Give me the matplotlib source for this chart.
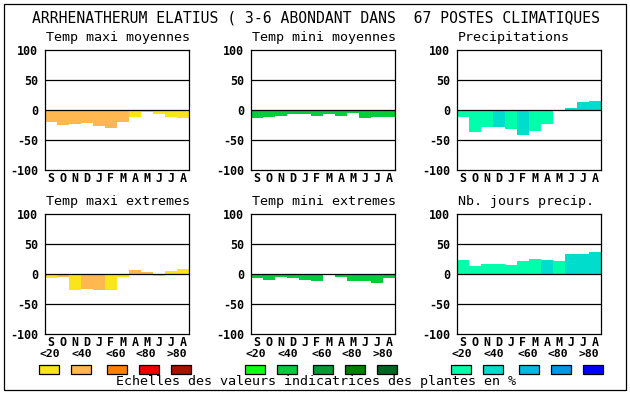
import matplotlib
matplotlib.use("Agg")
import matplotlib.pyplot as plt
from matplotlib.patches import Rectangle

W, H = 630, 394
MONO = "DejaVu Sans Mono"

# Data (percent deviation per month, Sept -> Aug)
months = ['S', 'O', 'N', 'D', 'J', 'F', 'M', 'A', 'M', 'J', 'J', 'A']

tmax_moy = [-20.5, -25.5, -24, -22, -27, -30.5, -20.5, -12, -4, -7, -12, -14]
tmax_moy_cls = [1, 1, 1, 1, 1, 1, 1, 0, 0, 0, 0, 0]

tmin_moy = [-14, -12, -10.5, -7, -7, -10.5, -7, -10.5, -5.5, -14, -12, -12]
tmin_moy_cls = [1] * 12

precip = [-12, -36, -28, -28, -31, -41, -34.5, -23, -2, 3, 13, 15]
precip_cls = [0, 0, 0, 1, 0, 1, 0, 0, 0, 1, 1, 1]

tmax_ext = [-7, -5.5, -27, -25.5, -27, -27, -5.5, 6, 3, -4, 4.5, 8]
tmax_ext_cls = [0, 1, 0, 1, 1, 0, 0, 1, 1, 0, 0, 0]

tmin_ext = [-7, -10.5, -5.5, -7, -10.5, -12, -2, -5.5, -12, -12, -15.5, -7]
tmin_ext_cls = [1] * 12

njours = [23.5, 14, 17, 17, 15.5, 22, 25, 24, 22, 33, 33, 37.5]
njours_cls = [0, 0, 0, 0, 0, 0, 0, 1, 0, 1, 1, 1]

warm = ['#FAE41A', '#FFB850', '#FF8000', '#EE0000', '#AA1000']
green = ['#10FF10', '#00CC3C', '#009932', '#008000', '#006420']
blue = ['#00FFAA', '#00DDCC', '#00BBDD', '#0096E6', '#0000FF']

class_labels = ['<20', '<40', '<60', '<80', '>80']
yticks = [-100, -50, 0, 50, 100]

title = "ARRHENATHERUM ELATIUS ( 3-6 ABONDANT DANS  67 POSTES CLIMATIQUES"
footer = "Echelles des valeurs indicatrices des plantes en %"

panels = [
    ("Temp maxi moyennes", tmax_moy, tmax_moy_cls, warm, 45, 50),
    ("Temp mini moyennes", tmin_moy, tmin_moy_cls, green, 251, 50),
    ("Precipitations", precip, precip_cls, blue, 457, 50),
    ("Temp maxi extremes", tmax_ext, tmax_ext_cls, warm, 45, 214),
    ("Temp mini extremes", tmin_ext, tmin_ext_cls, green, 251, 214),
    ("Nb. jours precip.", njours, njours_cls, blue, 457, 214),
]


def fx(x):
    return x / W


def fy(y):
    return 1 - y / H


fig = plt.figure(figsize=(W / 100, H / 100), dpi=100)
fig.patch.set_facecolor('white')

# outer frame
fig.add_artist(Rectangle((fx(4), fy(390)), fx(622), 386 / H, fill=False,
                         edgecolor='black', linewidth=0.9, transform=fig.transFigure))

fig.text(fx(316), fy(18), title, family=MONO, fontsize=10.6, ha='center', va='center')

for name, vals, cls, pal, left, top in panels:
    ax = fig.add_axes([fx(left), fy(top + 120), 144 / W, 120 / H])
    ax.bar(range(12), vals, width=1.0, color=[pal[c] for c in cls],
           linewidth=0, zorder=2)
    for yv in (-50, 0, 50):
        ax.axhline(yv, color='black', linewidth=0.9, zorder=3)
    ax.set_xlim(-0.5, 11.5)
    ax.set_ylim(-100, 100)
    ax.set_yticks(yticks)
    ax.set_yticklabels([str(v) for v in yticks], family=MONO, fontweight='bold', fontsize=8.4)
    ax.set_xticks(range(12))
    ax.set_xticklabels(months, family=MONO, fontweight='bold', fontsize=8.4)
    ax.tick_params(axis='y', length=0, pad=5)
    ax.tick_params(axis='x', length=0, pad=1.5)
    for sp in ax.spines.values():
        sp.set_linewidth(0.9)
        sp.set_zorder(4)
    fig.text(fx(left + 1), fy(top - 12), name, family=MONO, fontsize=9.6,
             ha='left', va='center')

# colour scale legend under each column
sq_offsets = [0, 32, 68, 100, 132]
lab_offsets = [11, 43, 77, 107, 138]
for pal, left in ((warm, 45), (green, 251), (blue, 457)):
    start = left - 6
    for i, col in enumerate(pal):
        fig.add_artist(Rectangle((fx(start + sq_offsets[i]), fy(374)), 20 / W, 9 / H,
                                 facecolor=col, edgecolor='black', linewidth=0.9,
                                 transform=fig.transFigure))
        fig.text(fx(start + lab_offsets[i]), fy(354), class_labels[i], family=MONO,
                 fontweight='bold', fontsize=8.2, ha='center', va='center')

fig.text(fx(316), fy(382), footer, family=MONO, fontsize=9.6, ha='center', va='center')

fig.savefig("out.png", dpi=100)
